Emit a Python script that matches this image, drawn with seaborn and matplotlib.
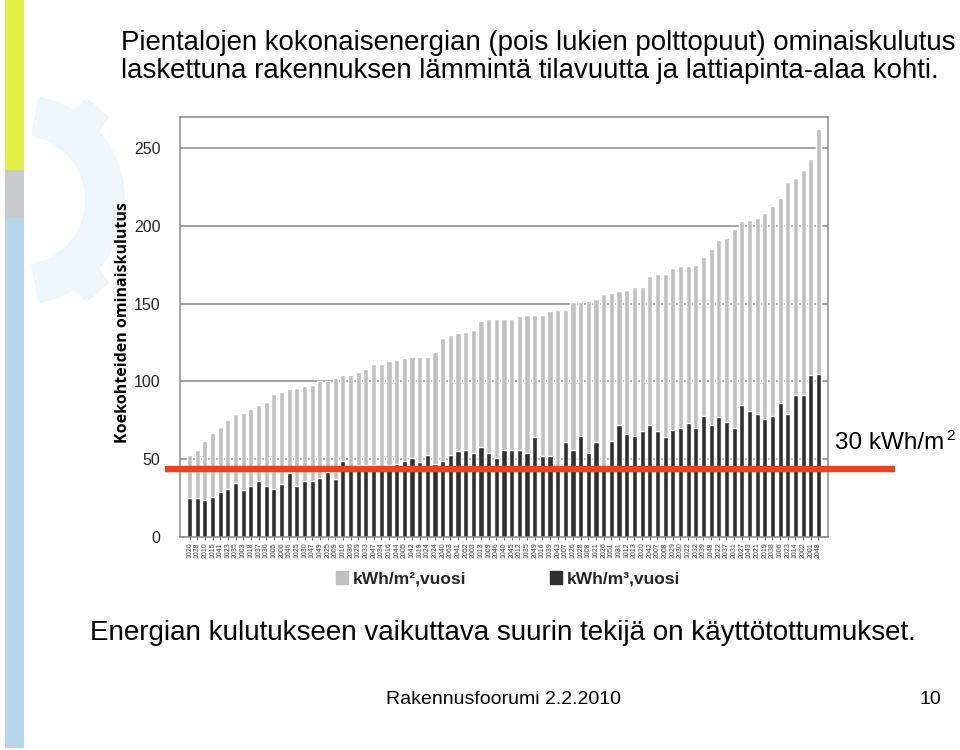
import matplotlib
matplotlib.use("Agg")
import matplotlib.pyplot as plt
import matplotlib.transforms as mtransforms
from matplotlib.patches import Rectangle, Wedge, Polygon
import numpy as np
import pandas as pd
import seaborn as sns

# ---------------- data ----------------
sites = ["1020", "1038", "2010", "1015", "1041", "1023", "2035", "1003", "1018", "1037",
         "1036", "1005", "2006", "1046", "1025", "1030", "1047",
         "1049", "2025", "2009", "1010", "2036", "1029", "2033", "2047", "1034",
         "2016", "1044", "2005", "1042", "1019", "1024", "2024",
         "2040", "2063", "2041", "2052", "2003", "1013", "1009", "2046", "1040",
         "2045", "2012", "1035", "2049", "1016", "1039", "2043",
         "1007", "1026", "1028", "1008", "1021", "2026", "1051", "1031", "1012",
         "2013", "2020", "2042", "2007", "2008", "2029", "2030", "1022",
         "2032", "2039", "1048", "2022", "2037", "2031", "2027", "1043", "2021",
         "2019", "2038", "1006", "2023", "1014", "2002", "2001", "2048"]

kwh_m2 = [53, 56, 62, 67, 71, 75, 79, 80, 82, 85,
          87, 92, 93, 95, 96, 97, 98,
          100, 100, 102, 104, 104, 106, 108, 111, 111,
          113, 114, 115, 116, 116, 116, 119,
          128, 130, 131, 132, 133, 139, 140, 140, 140,
          140, 142, 143, 143, 143, 145, 146,
          146, 151, 151, 152, 153, 156, 157, 158, 159,
          161, 161, 168, 169, 169, 173, 174, 174,
          175, 180, 185, 191, 192, 198, 203, 204, 205,
          208, 213, 218, 228, 231, 236, 243, 262]

kwh_m3 = [25, 25, 24, 26, 29, 31, 35, 30, 33, 36,
          33, 31, 34, 41, 33, 36, 36,
          38, 42, 37, 49, 45, 46, 46, 46, 45,
          46, 47, 49, 51, 48, 53, 47,
          49, 53, 55, 56, 54, 58, 54, 51, 56,
          56, 56, 54, 64, 52, 52, 45,
          61, 56, 65, 54, 61, 45, 62, 72, 66,
          65, 68, 72, 68, 64, 69, 70, 73,
          70, 78, 72, 77, 74, 70, 85, 81, 79,
          76, 78, 86, 79, 91, 91, 104, 105]

series_names = ["kWh/m²,vuosi", "kWh/m³,vuosi"]
y_ticks = [0, 50, 100, 150, 200, 250]

title_text = ("Pientalojen kokonaisenergian (pois lukien polttopuut) ominaiskulutus\n"
              "laskettuna rakennuksen lämmintä tilavuutta ja lattiapinta-alaa kohti.")
ylabel_text = "Koekohteiden ominaiskulutus"
ref_label = "30 kWh/m"
ref_sup = "2"
ref_level = 44
bottom_text = "Energian kulutukseen vaikuttava suurin tekijä on käyttötottumukset."
footer_text = "Rakennusfoorumi 2.2.2010"
page_no = "10"

# ---------------- style ----------------
sns.set_theme(style="white")
plt.rcParams['font.family'] = ['Liberation Sans', 'DejaVu Sans']

W, H = 960, 750
fig = plt.figure(figsize=(W / 100, H / 100), dpi=100)
fig.patch.set_facecolor("white")

# background / slide layer in pixel coords
bg = fig.add_axes([0, 0, 1, 1], zorder=0)
bg.set_xlim(0, W)
bg.set_ylim(H, 0)
bg.axis("off")

# faint gear watermark
wm = "#eef6fb"
cx, cy = 20, 200
bg.add_patch(Wedge((cx, cy), 105, -80, 80, width=40, color=wm, lw=0))
for ang in [-50, 50]:
    a = np.deg2rad(ang)
    r0, r1, hw = 100, 122, np.deg2rad(10)
    pts = [(cx + r0 * np.cos(a - hw), cy - r0 * np.sin(a - hw)),
           (cx + r1 * np.cos(a - hw * 0.7), cy - r1 * np.sin(a - hw * 0.7)),
           (cx + r1 * np.cos(a + hw * 0.7), cy - r1 * np.sin(a + hw * 0.7)),
           (cx + r0 * np.cos(a + hw), cy - r0 * np.sin(a + hw))]
    bg.add_patch(Polygon(pts, closed=True, color=wm, lw=0))

# left coloured strip
bg.add_patch(Rectangle((5, 0), 19, 170, color="#e4ef47", lw=0))
bg.add_patch(Rectangle((5, 170), 19, 48, color="#c9cbcc", lw=0))
bg.add_patch(Rectangle((5, 218), 19, 530, color="#b6d6ea", lw=0))

bg.text(121, 57, title_text, fontsize=19.9, ha="left", va="center",
        linespacing=1.15, color="black")
bg.text(835, 443, ref_label, fontsize=17.5, ha="left", va="center", color="black")
bg.text(946, 436, ref_sup, fontsize=11, ha="left", va="center", color="black")
bg.text(503, 633, bottom_text, fontsize=20, ha="center", va="center", color="black")
bg.text(503, 700, footer_text, fontsize=14, ha="center", va="center", color="black")
bg.text(930, 700, page_no, fontsize=14, ha="center", va="center", color="black")

# ---------------- chart ----------------
L, R, T, B = 180, 828, 117, 537
ax = fig.add_axes([L / W, 1 - B / H, (R - L) / W, (B - T) / H], zorder=1)

n = len(sites)
df = pd.DataFrame({
    "site": sites * 2,
    "value": kwh_m2 + kwh_m3,
    "series": [series_names[0]] * n + [series_names[1]] * n,
})
palette = {series_names[0]: "#c0c0c0", series_names[1]: "#303030"}
sns.barplot(data=df, x="site", y="value", hue="series", order=sites,
            hue_order=series_names, palette=palette, dodge=False, width=0.66,
            saturation=1, errorbar=None, legend=False, ax=ax, zorder=2)

ax.set_xlim(-1.25, n - 1 + 1.25)
ax.set_ylim(0, 270)
ax.set_yticks(y_ticks)
ax.set_yticklabels([str(v) for v in y_ticks], fontsize=11.5)
ax.set_xticks(range(n))
ax.set_xticklabels(sites, rotation=90, fontsize=5, color="#404040")
ax.tick_params(axis="x", length=2, width=0.6, color="#606060", pad=2, bottom=True)
ax.tick_params(axis="y", length=0, pad=14)
ax.yaxis.grid(True, color="#8a8a8a", lw=1.1)
ax.set_axisbelow(True)
for s in ax.spines.values():
    s.set_visible(True)
    s.set_color("#8a8a8a")
    s.set_linewidth(1.1)
ax.set_xlabel("")
ax.set_ylabel(ylabel_text, fontsize=11.5, fontweight="bold",
              family=["Open Sans", "DejaVu Sans"], color="black")
ax.yaxis.set_label_coords((131 - L) / (R - L), 0.51)

# red reference line (extends beyond the plot area)
trans = mtransforms.blended_transform_factory(ax.transAxes, ax.transData)
ax.plot([(165 - L) / (R - L), (895 - L) / (R - L)], [ref_level, ref_level],
        transform=trans, color="#f2401a", lw=4.6, clip_on=False, zorder=6,
        solid_capstyle="butt")

# legend
handles = [Rectangle((0, 0), 1, 1, color=palette[s]) for s in series_names]
fig.legend(handles, series_names, loc="center", bbox_to_anchor=(508 / W, 1 - 579 / H),
           ncol=2, frameon=False, handlelength=0.7, handleheight=0.7,
           handletextpad=0.3, columnspacing=4.8,
           prop={"weight": "bold", "size": 12.5})

fig.savefig("out.png", dpi=100, facecolor="white")
